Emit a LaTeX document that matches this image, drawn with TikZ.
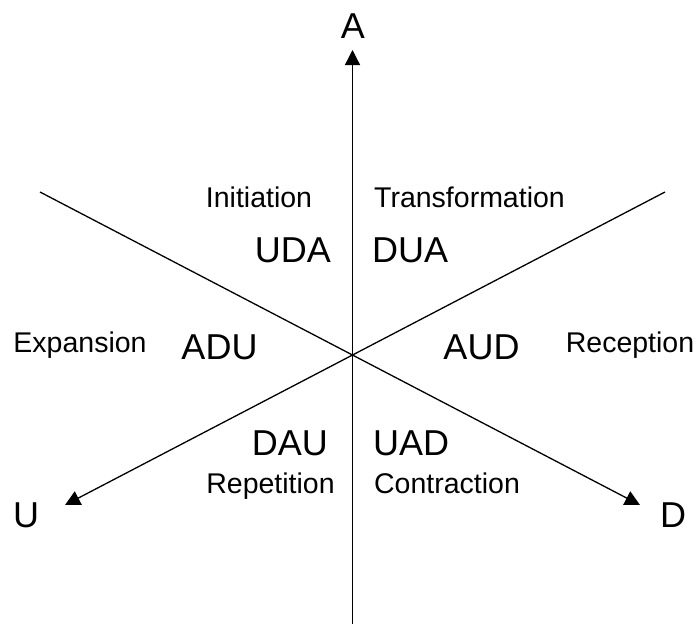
\documentclass[tikz,border=0pt]{standalone}
\usepackage{fontspec}
\setmainfont{Liberation Sans}
\usetikzlibrary{arrows.meta}
\begin{document}
\begin{tikzpicture}[x=1pt,y=-1pt,
  axis/.style={line width=1.3pt, -{Triangle[length=15pt,width=15pt]}},
  big/.style={inner sep=0pt, font=\fontsize{36}{40}\selectfont},
  small/.style={inner sep=0pt, font=\fontsize{28.5}{32}\selectfont}]
\useasboundingbox (0,0) rectangle (697,624);
\coordinate (c) at (352.5,355);
\coordinate (top) at (352.5,50);
\coordinate (bot) at (352.5,624);
\coordinate (ul) at (40,192);
\coordinate (ur) at (665,192);
\coordinate (dr) at (640,505);
\coordinate (dl) at (65,505);
\draw[axis] (bot) -- (top);
\draw[axis] (ul) -- (dr);
\draw[axis] (ur) -- (dl);
% axis labels
\node[big, anchor=base] (lA) at (353,38) {A};
\node[big, anchor=base] (lU) at (26,527) {U};
\node[big, anchor=base] (lD) at (673,527) {D};
% sector codes
\node[big, anchor=base east] (uda) at (331,262) {UDA};
\node[big, anchor=base west] (dua) at (372,262) {DUA};
\node[big, anchor=base] (adu) at (219.5,359.5) {ADU};
\node[big, anchor=base] (aud) at (481.5,359.5) {AUD};
\node[big, anchor=base east] (dau) at (328,455) {DAU};
\node[big, anchor=base west] (uad) at (373,455) {UAD};
% sector names
\node[small, anchor=base] (init) at (259,207) {Initiation};
\node[small, anchor=base west] (trans) at (374,207) {Transformation};
\node[small, anchor=base] (exp) at (80,352) {Expansion};
\node[small, anchor=base] (rec) at (630,352) {Reception};
\node[small, anchor=base] (rep) at (270.5,493) {Repetition};
\node[small, anchor=base] (con) at (447,493) {Contraction};
\end{tikzpicture}
\end{document}
